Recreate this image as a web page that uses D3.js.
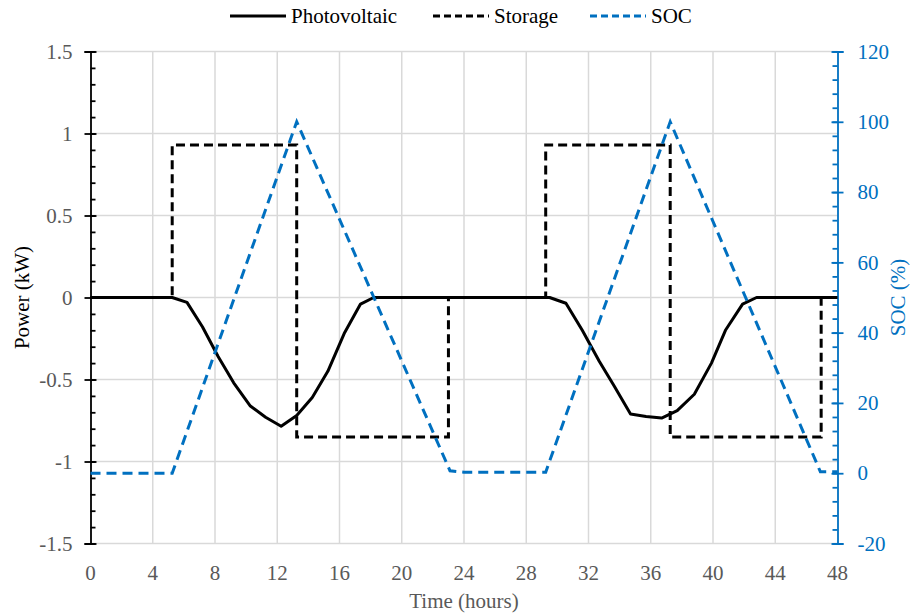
<!DOCTYPE html>
<html>
<head>
<meta charset="utf-8">
<script src="https://cdn.jsdelivr.net/npm/d3@7"></script>
<style>
    body { margin: 0; background: #fff; }
    text { font-family: "Liberation Serif", "Times New Roman", serif; }
</style>
</head>
<body>
<div class="chart-area"></div>
<script>
// photovoltaic output (kW)
const pvHours = [0, 5.25, 6.2, 7.2, 8.2, 9.2, 10.25, 11.25, 12.25, 13.25, 14.25, 15.25, 16.3, 17.35, 18.2,
    29.5, 30.55, 31.6, 32.7, 33.65, 34.7, 35.7, 36.7, 37.7, 38.8, 39.9, 40.8, 41.9, 42.8, 48];
const pvPower = [0, 0, -0.03, -0.18, -0.36, -0.52, -0.66, -0.73, -0.785, -0.72, -0.61, -0.45, -0.22, -0.04, 0,
    0, -0.035, -0.2, -0.39, -0.54, -0.71, -0.725, -0.735, -0.69, -0.59, -0.4, -0.2, -0.04, 0, 0];

// storage power (kW), step profile
const storageHours = [0, 5.25, 5.25, 13.25, 13.25, 23, 23, 29.25, 29.25, 37.25, 37.25, 46.95, 46.95, 48];
const storagePower = [0, 0, 0.93, 0.93, -0.85, -0.85, 0, 0, 0.93, 0.93, -0.85, -0.85, 0, 0];

// state of charge (%)
const socHours = [0, 5.25, 13.25, 23.1, 24, 29.25, 37.25, 46.9, 48];
const socValues = [0, 0, 100, 0.7, 0.3, 0.3, 100, 0.4, 0.4];

const xTicks = [0, 4, 8, 12, 16, 20, 24, 28, 32, 36, 40, 44, 48];
const powerTicks = [-1.5, -1, -0.5, 0, 0.5, 1, 1.5];
const socTicks = [-20, 0, 20, 40, 60, 80, 100, 120];

const legendItems = ["Photovoltaic", "Storage", "SOC"];

const width = 919;
const height = 614;
const fontSize = 21;
const blue = "#0070C0";
const grey = "#595959";
const gridColor = "#D9D9D9";

const svg = d3.select(".chart-area")
    .append("svg")
    .attr("width", width)
    .attr("height", height);

const x = d3.scaleLinear().domain([0, 48]).range([90.5, 837.5]);
const yPower = d3.scaleLinear().domain([-1.5, 1.5]).range([543.5, 51.5]);
const ySoc = d3.scaleLinear().domain([-20, 120]).range([543.5, 51.5]);

// gridlines
svg.append("g")
    .selectAll("line")
    .data(powerTicks)
    .join("line")
    .attr("x1", x(0))
    .attr("x2", x(48))
    .attr("y1", d => yPower(d))
    .attr("y2", d => yPower(d))
    .attr("stroke", gridColor)
    .attr("stroke-width", 1.5);

svg.append("g")
    .selectAll("line")
    .data(xTicks.slice(1, -1))
    .join("line")
    .attr("x1", d => x(d))
    .attr("x2", d => x(d))
    .attr("y1", yPower(1.5))
    .attr("y2", yPower(-1.5))
    .attr("stroke", gridColor)
    .attr("stroke-width", 1.5);

// x tick labels (no axis line, the bottom gridline stands in)
svg.append("g")
    .selectAll("text")
    .data(xTicks)
    .join("text")
    .attr("x", d => x(d))
    .attr("y", 580)
    .attr("text-anchor", "middle")
    .attr("font-size", fontSize)
    .attr("fill", grey)
    .text(d => d);

// left axis: minor ticks inside, major ticks crossing
const leftAxis = svg.append("g").attr("transform", `translate(${x(0)},0)`);
leftAxis.append("g")
    .call(d3.axisRight(yPower).tickValues(d3.range(-15, 16).map(d => d / 10)).tickSize(5).tickFormat(""))
    .call(g => g.select(".domain").remove());
leftAxis.append("g")
    .call(d3.axisLeft(yPower).tickValues(powerTicks).tickSize(6).tickPadding(12).tickFormat(d => String(d)))
    .call(g => g.selectAll(".tick line").attr("x2", 6).attr("x1", -6))
    .call(g => g.selectAll("text").attr("font-size", fontSize).attr("fill", grey));
leftAxis.selectAll("line, path").attr("stroke", "#000").attr("stroke-width", 1.8);

// right axis in blue
const rightAxis = svg.append("g").attr("transform", `translate(${x(48)},0)`);
rightAxis.append("g")
    .call(d3.axisLeft(ySoc).tickValues(d3.range(-20, 121, 4)).tickSize(5).tickFormat(""))
    .call(g => g.select(".domain").remove());
rightAxis.append("g")
    .call(d3.axisRight(ySoc).tickValues(socTicks).tickSize(6).tickPadding(14).tickFormat(d => String(d)))
    .call(g => g.selectAll(".tick line").attr("x1", -6).attr("x2", 6))
    .call(g => g.selectAll("text").attr("font-size", fontSize).attr("fill", blue));
rightAxis.selectAll("line, path").attr("stroke", blue).attr("stroke-width", 1.8);

// series
const pvLine = d3.line()
    .x((d, i) => x(pvHours[i]))
    .y(d => yPower(d));

const storageLine = d3.line()
    .x((d, i) => x(storageHours[i]))
    .y(d => yPower(d));

const socLine = d3.line()
    .x((d, i) => x(socHours[i]))
    .y(d => ySoc(d));

svg.append("path")
    .attr("d", pvLine(pvPower))
    .attr("fill", "none")
    .attr("stroke", "#000")
    .attr("stroke-width", 3)
    .attr("stroke-linejoin", "round");

svg.append("path")
    .attr("d", storageLine(storagePower))
    .attr("fill", "none")
    .attr("stroke", "#000")
    .attr("stroke-width", 3)
    .attr("stroke-dasharray", "9,5");

svg.append("path")
    .attr("d", socLine(socValues))
    .attr("fill", "none")
    .attr("stroke", blue)
    .attr("stroke-width", 3)
    .attr("stroke-dasharray", "10,6");

// axis titles
svg.append("text")
    .attr("transform", `translate(29,${yPower(0)}) rotate(-90)`)
    .attr("text-anchor", "middle")
    .attr("font-size", fontSize)
    .attr("fill", "#000")
    .text("Power (kW)");

svg.append("text")
    .attr("transform", `translate(905,${yPower(0)}) rotate(-90)`)
    .attr("text-anchor", "middle")
    .attr("font-size", fontSize)
    .attr("fill", blue)
    .text("SOC (%)");

svg.append("text")
    .attr("x", (x(0) + x(48)) / 2)
    .attr("y", 608)
    .attr("text-anchor", "middle")
    .attr("font-size", fontSize)
    .attr("fill", grey)
    .text("Time (hours)");

// legend
const legendStyles = [
    { color: "#000", dash: null },
    { color: "#000", dash: "7,4" },
    { color: blue, dash: "7,4" }
];
const legendX = [230, 433, 590];

const legend = svg.append("g");
legendItems.forEach((name, i) => {
    const g = legend.append("g").attr("transform", `translate(${legendX[i]},16)`);
    g.append("line")
        .attr("x1", 0)
        .attr("x2", 56)
        .attr("stroke", legendStyles[i].color)
        .attr("stroke-width", 3)
        .attr("stroke-dasharray", legendStyles[i].dash);
    g.append("text")
        .attr("x", 61)
        .attr("y", 7)
        .attr("font-size", fontSize)
        .attr("fill", "#000")
        .text(name);
});
</script>
</body>
</html>
